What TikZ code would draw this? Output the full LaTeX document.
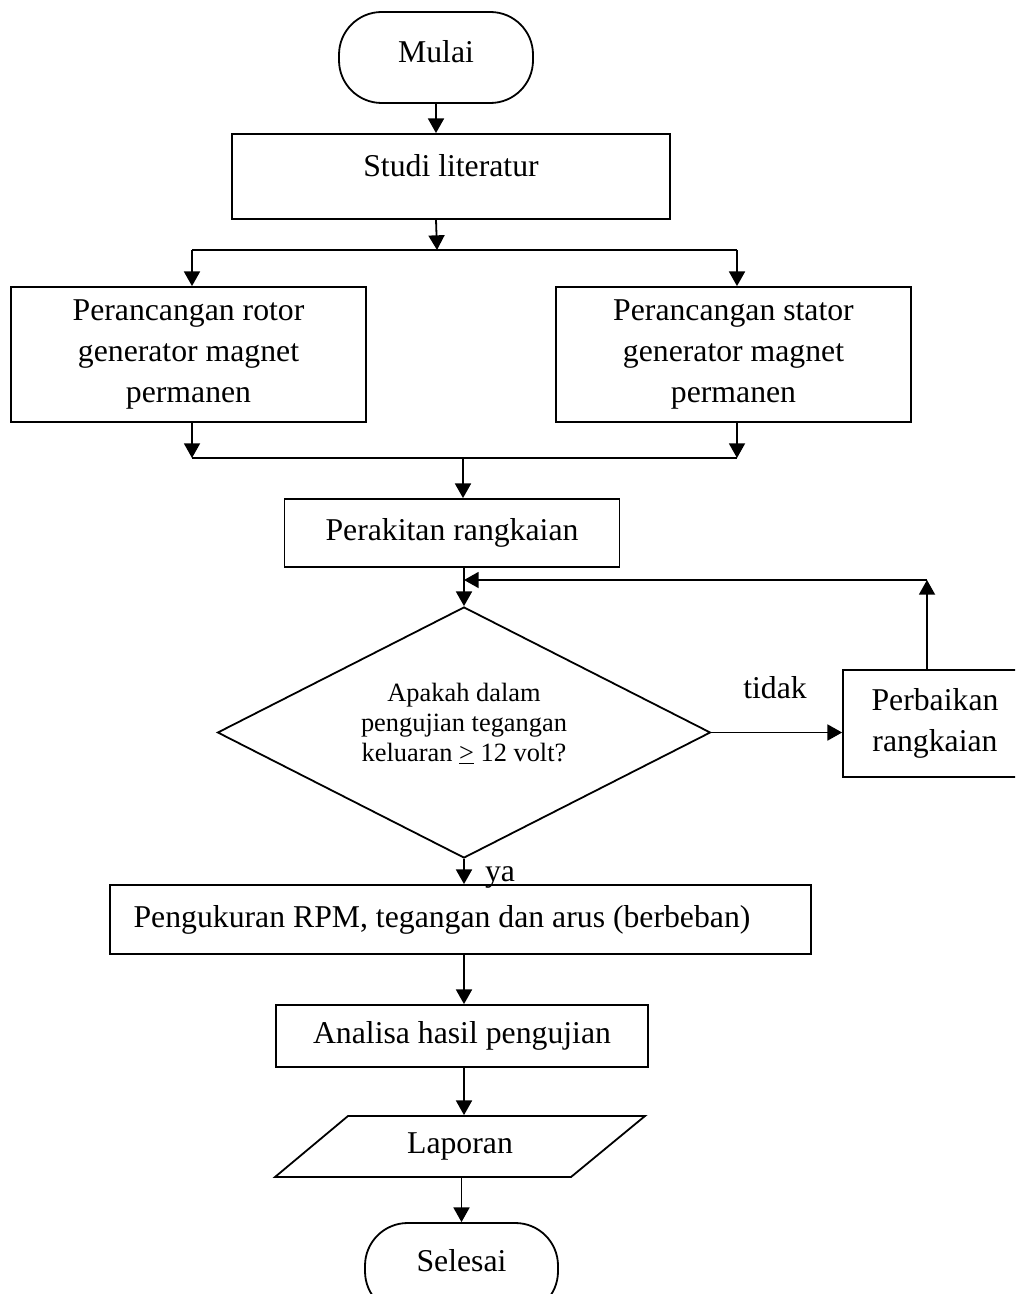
\documentclass[tikz,border=0pt]{standalone}
\usepackage{fontspec}
\setmainfont{Liberation Serif}
\usetikzlibrary{arrows.meta,shapes.geometric}
\newcommand\bxfont{\fontsize{23.8}{30.75}\selectfont}
\newcommand\dmfont{\fontsize{19.8}{22.5}\selectfont}
\begin{document}
\begin{tikzpicture}[x=0.75pt,y=-0.75pt,
  line width=1.35pt,
  >={Triangle[length=11pt,width=12pt]},
  box/.style={draw, rectangle, inner sep=0pt, align=center, font=\bxfont},
  term/.style={draw, rectangle, rounded corners=32pt, inner sep=0pt, font=\bxfont},
  dec/.style={draw, diamond, inner sep=0pt},
  lbl/.style={font=\bxfont, inner sep=0pt},
]
\useasboundingbox (0,0) rectangle (1015,1294);
\clip (0,0) rectangle (1015,1294);

% nodes
\node[term, minimum width=194*0.75pt, minimum height=91*0.75pt, text height=16pt, text depth=8pt] (mulai) at (436,57.5) {Mulai};
\node[box, minimum width=438*0.75pt, minimum height=85*0.75pt, text height=16pt, text depth=16pt] (studi) at (451,176.5) {Studi literatur};
\node[box, minimum width=355*0.75pt, minimum height=135*0.75pt] (rotor) at (188.5,354.5) {Perancangan rotor\\generator magnet\\permanen};
\node[box, minimum width=355*0.75pt, minimum height=135*0.75pt] (stator) at (733.5,354.5) {Perancangan stator\\generator magnet\\permanen};
\node[box, minimum width=335*0.75pt, minimum height=68*0.75pt] (rakit) at (452,533) {Perakitan rangkaian};
\node[dec, minimum width=493*0.75pt, minimum height=251*0.75pt] (uji) at (464,732.5) {};
\node[font=\dmfont, align=center, inner sep=0pt] (ujitext) at (464,724) {Apakah dalam\\pengujian tegangan\\keluaran \underline{>} 12 volt?};
\node[box, minimum width=184*0.75pt, minimum height=107*0.75pt] (perbaikan) at (935,723.5) {Perbaikan\\rangkaian};
\node[draw, rectangle, inner sep=0pt, font=\bxfont, minimum width=701*0.75pt, minimum height=69*0.75pt] (ukur) at (460.5,919.5) {Pengukuran RPM, tegangan dan arus (berbeban)\hspace*{27.75pt}};
\node[box, minimum width=372*0.75pt, minimum height=62*0.75pt] (analisa) at (462,1036) {Analisa hasil pengujian};
\node[inner sep=0pt, font=\bxfont, minimum width=296*0.75pt, minimum height=61*0.75pt] (laporan) at (460,1146.5) {Laporan};
\draw (348,1116) -- (645,1116) -- (571,1177) -- (275,1177) -- cycle;
\node[term, minimum width=193*0.75pt, minimum height=91*0.75pt, text height=16pt, text depth=12pt] (selesai) at (461.5,1268.5) {Selesai};

\node[lbl] (tidak) at (775,688) {tidak};
\node[lbl] (ya) at (500,877) {ya};

% helper coordinates
\coordinate (split) at (437,250);
\coordinate (sL) at (192,250);
\coordinate (sR) at (737,250);
\coordinate (mL) at (192,458);
\coordinate (mR) at (737,458);
\coordinate (merge) at (463,458);
\coordinate (fbTop) at (927,580);

% connectors
\draw[->] (mulai.south) -- (mulai.south |- studi.north);
\draw[->] (mulai.south |- studi.south) -- (split);
\draw (sL) -- (sR);
\draw[->] (sL) -- (sL |- rotor.north);
\draw[->] (sR) -- (sR |- stator.north);
\draw[->] (sL |- rotor.south) -- (mL);
\draw[->] (sR |- stator.south) -- (mR);
\draw (mL) -- (mR);
\draw[->] (merge) -- (merge |- rakit.north);
\draw[->] (uji.north |- rakit.south) -- (uji.north);
\draw[->] (fbTop |- perbaikan.north) -- (fbTop);
\draw[->] (fbTop) -- (uji.north |- fbTop);
\draw[->] (uji.east) -- (uji.east -| perbaikan.west);
\draw[->] (uji.south) -- (uji.south |- ukur.north);
\draw[->] (uji.south |- ukur.south) -- (uji.south |- analisa.north);
\draw[->] (uji.south |- analisa.south) -- (uji.south |- laporan.north);
\draw[->] (selesai.north |- laporan.south) -- (selesai.north);
\end{tikzpicture}
\end{document}
